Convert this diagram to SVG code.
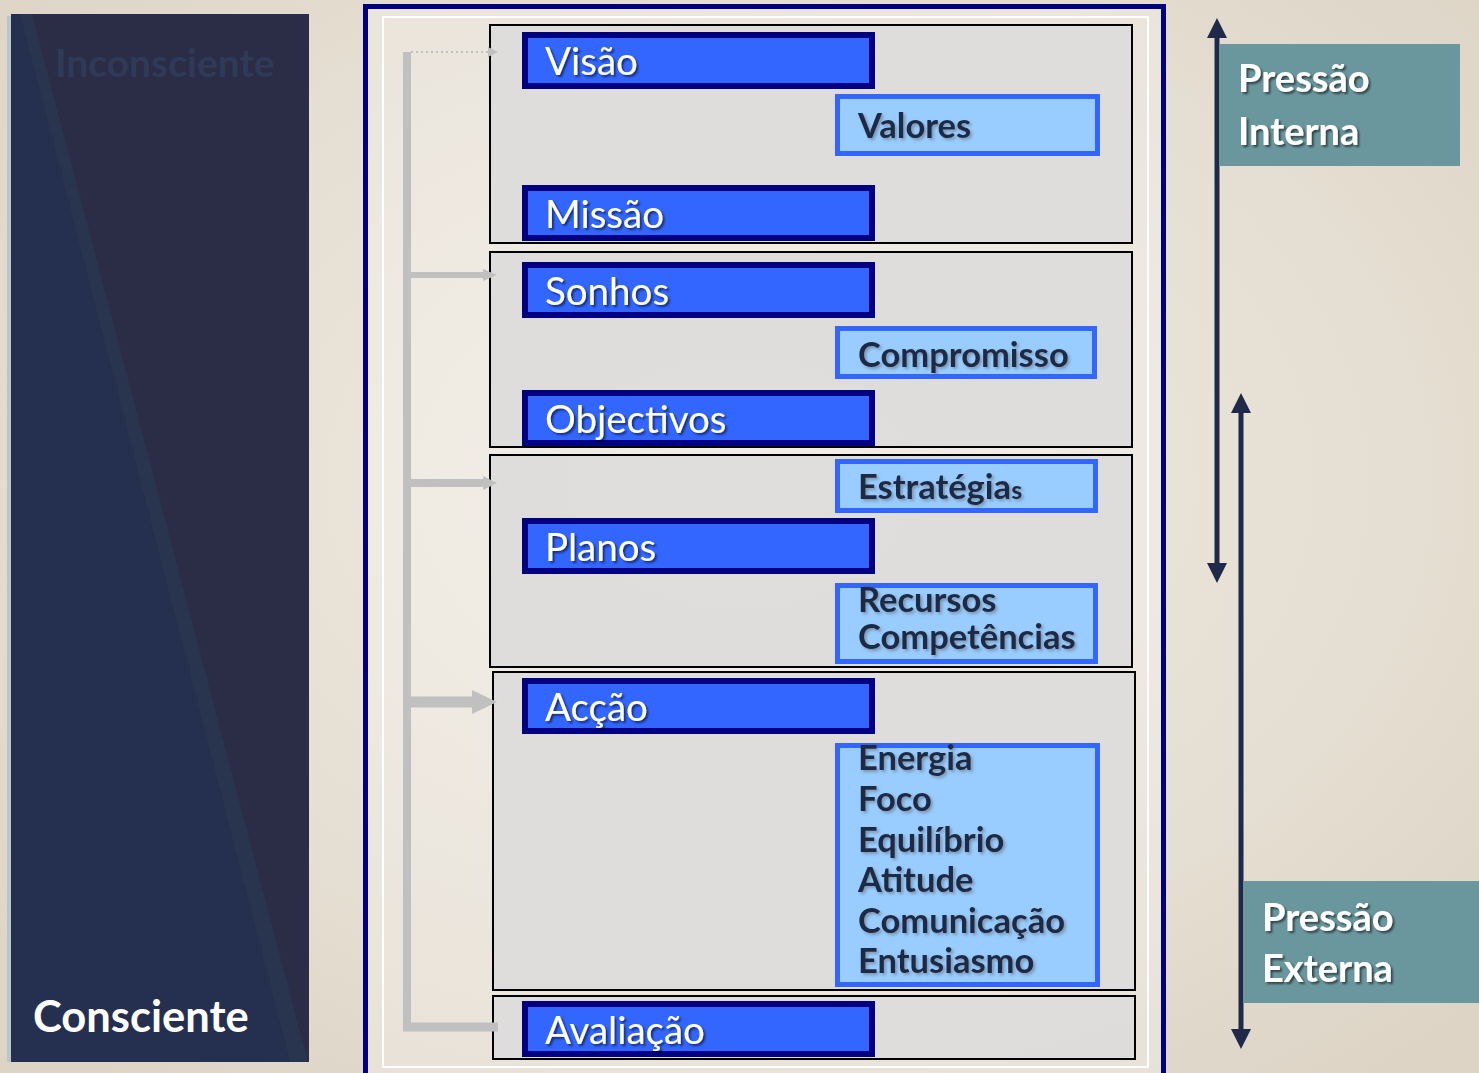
<svg xmlns="http://www.w3.org/2000/svg" width="1479" height="1073" viewBox="0 0 1479 1073">
<style>
.sec{fill:#dddcda;fill-opacity:0.9;stroke:#000;stroke-width:2}
.bb{fill:#3366ff;stroke:#000080;stroke-width:6}
.lb{fill:#99ccff;stroke:#3366ff;stroke-width:5}
.wt{font-family:Lato,"Liberation Sans",sans-serif;font-size:38.5px;fill:#fff;filter:url(#sh)}
.dt{font-family:Lato,"Liberation Sans",sans-serif;font-weight:bold;font-size:34.5px;fill:#1f2a44;filter:url(#sh2)}
.tt{font-family:Lato,"Liberation Sans",sans-serif;font-weight:bold;font-size:38px;fill:#fff;filter:url(#sh)}
.teal{fill:#6a979e}
.gl{stroke:#c0c0c0;fill:none}
.nv{stroke:#1f2a4a;stroke-width:5;fill:none}
</style>
<defs>
<filter id="sh" x="-10%" y="-20%" width="130%" height="150%"><feDropShadow dx="2" dy="2" stdDeviation="1.2" flood-color="#000" flood-opacity="0.55"/></filter>
<filter id="sh2" x="-10%" y="-20%" width="130%" height="150%"><feDropShadow dx="2" dy="2" stdDeviation="1.5" flood-color="#555" flood-opacity="0.45"/></filter>
<radialGradient id="bg" cx="0.5" cy="0.45" r="0.7">
<stop offset="0" stop-color="#efe9e0"/><stop offset="0.6" stop-color="#e6dfd3"/><stop offset="1" stop-color="#ddd4c6"/>
</radialGradient>
<marker id="ahN" viewBox="0 0 10 10" refX="5" refY="5" markerWidth="4" markerHeight="4" orient="auto-start-reverse" markerUnits="strokeWidth"><path d="M0,0 L10,5 L0,10 z" fill="#1f2a4a"/></marker>
</defs>
<rect width="1479" height="1073" fill="url(#bg)"/>

<!-- left panel -->
<g id="panel">
<rect x="7" y="16" width="302" height="1046" fill="#b9c6cd"/>
<rect x="11" y="14" width="298" height="1048" fill="#2b2c45"/>
<polygon points="11,14 20,14 290,1062 11,1062" fill="#253050"/>
<polygon points="20,14 32,14 308,1062 290,1062" fill="#29344f"/>
<text x="55" y="77" font-family="Lato,'Liberation Sans',sans-serif" font-weight="bold" font-size="39" fill="#2f3a58">Inconsciente</text>
<text x="33" y="1032" font-family="Lato,'Liberation Sans',sans-serif" font-weight="bold" font-size="43.5" fill="#fff">Consciente</text>
</g>

<!-- main frame -->
<g id="frame">
<rect x="365.5" y="6.5" width="798" height="1075" fill="#ffffff" fill-opacity="0.25" stroke="#000080" stroke-width="5"/>
<rect x="383" y="17" width="765" height="1050" fill="none" stroke="#ffffff" stroke-width="2"/>
</g>

<g id="sections">
<rect class="sec" x="490" y="25" width="642" height="218"/>
<rect class="sec" x="490" y="252" width="642" height="195"/>
<rect class="sec" x="490" y="455" width="642" height="212"/>
<rect class="sec" x="493" y="672" width="642" height="318"/>
<rect class="sec" x="493" y="996" width="642" height="63"/>
</g>

<g id="connectors">
<line class="gl" x1="407" y1="52" x2="407" y2="1031" stroke-width="8"/>
<line x1="411" y1="52" x2="488" y2="52" stroke="#c0c0c0" stroke-width="2" stroke-dasharray="2,3"/>
<polygon points="488,47 498,52 488,57" fill="#c0c0c0"/>
<line class="gl" x1="407" y1="275" x2="484" y2="275" stroke-width="6"/>
<polygon points="483,269 497,275 483,281" fill="#c0c0c0"/>
<line class="gl" x1="407" y1="483" x2="484" y2="483" stroke-width="8"/>
<polygon points="483,476 497,483 483,490" fill="#c0c0c0"/>
<line class="gl" x1="407" y1="702" x2="474" y2="702" stroke-width="11"/>
<polygon points="472,690 497,702 472,714" fill="#c0c0c0"/>
<line class="gl" x1="403" y1="1027" x2="498" y2="1027" stroke-width="9"/>
<line class="nv" x1="1217" y1="28" x2="1217" y2="573" marker-start="url(#ahN)" marker-end="url(#ahN)"/>
<line class="nv" x1="1241" y1="403" x2="1241" y2="1039" marker-start="url(#ahN)" marker-end="url(#ahN)"/>
</g>

<g id="visao"><rect class="bb" x="525" y="35" width="347" height="51"/><text class="wt" x="545" y="75">Visão</text></g>
<g id="valores"><rect class="lb" x="837.5" y="96.5" width="260" height="57"/><text class="dt" x="858" y="138">Valores</text></g>
<g id="missao"><rect class="bb" x="525" y="188" width="347" height="50"/><text class="wt" x="545" y="228">Missão</text></g>
<g id="sonhos"><rect class="bb" x="525" y="265" width="347" height="50"/><text class="wt" x="545" y="305">Sonhos</text></g>
<g id="compromisso"><rect class="lb" x="837.5" y="328.5" width="257" height="48"/><text class="dt" x="858" y="367">Compromisso</text></g>
<g id="objectivos"><rect class="bb" x="525" y="393" width="347" height="50"/><text class="wt" x="545" y="433">Objectivos</text></g>
<g id="estrategias"><rect class="lb" x="837.5" y="461.5" width="258" height="49"/><text class="dt" x="858" y="499">Estratégia<tspan font-size="25">s</tspan></text></g>
<g id="planos"><rect class="bb" x="525" y="521" width="347" height="50"/><text class="wt" x="545" y="561">Planos</text></g>
<g id="recursos"><rect class="lb" x="837.5" y="585.5" width="258" height="76"/><text class="dt" x="858" y="612">Recursos</text><text class="dt" x="858" y="649">Competências</text></g>
<g id="accao"><rect class="bb" x="525" y="681" width="347" height="50"/><text class="wt" x="545" y="721">Acção</text></g>
<g id="energia"><rect class="lb" x="837.5" y="745.5" width="260" height="239"/>
<text class="dt" x="858" y="770">Energia</text>
<text class="dt" x="858" y="811">Foco</text>
<text class="dt" x="858" y="852">Equilíbrio</text>
<text class="dt" x="858" y="892">Atitude</text>
<text class="dt" x="858" y="933">Comunicação</text>
<text class="dt" x="858" y="973">Entusiasmo</text>
</g>
<g id="avaliacao"><rect class="bb" x="525" y="1004" width="347" height="50"/><text class="wt" x="545" y="1044">Avaliação</text></g>

<g id="pressao-interna"><rect class="teal" x="1219" y="44" width="241" height="122"/><text class="tt" x="1238" y="92">Pressão</text><text class="tt" x="1238" y="145">Interna</text></g>
<g id="pressao-externa"><rect class="teal" x="1243" y="881" width="236" height="122"/><text class="tt" x="1262" y="931">Pressão</text><text class="tt" x="1262" y="982">Externa</text></g>
</svg>
